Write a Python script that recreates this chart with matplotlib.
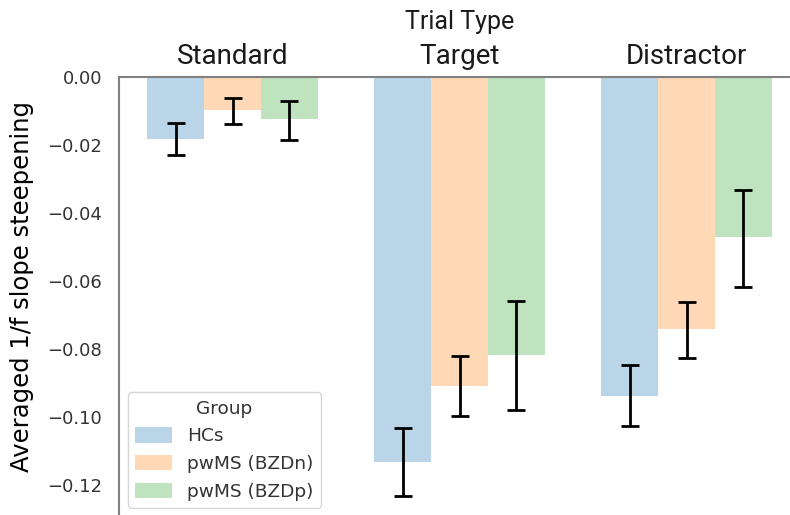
import numpy as np
import matplotlib
matplotlib.use("Agg")
import matplotlib.pyplot as plt
from matplotlib.patches import Patch

# values
trial_types = ['Standard', 'Target', 'Distractor']
groups = ['HCs', 'pwMS (BZDn)', 'pwMS (BZDp)']

hcs_mean = [-0.0182, -0.1131, -0.0937]
hcs_hi = [-0.0135, -0.1033, -0.0847]
hcs_lo = [-0.0229, -0.1232, -0.1026]

bzdn_mean = [-0.0097, -0.0909, -0.0741]
bzdn_hi = [-0.0062, -0.0820, -0.0663]
bzdn_lo = [-0.0138, -0.0997, -0.0826]

bzdp_mean = [-0.0124, -0.0817, -0.0471]
bzdp_hi = [-0.0071, -0.0659, -0.0332]
bzdp_lo = [-0.0185, -0.0979, -0.0619]

colors = ['#1f77b4', '#ff7f0e', '#2ca02c']

fig = plt.figure(figsize=(7.9, 5.15), dpi=100)
ax = fig.add_axes([119 / 790, 1 - 519 / 515, 681 / 790, 442 / 515])

x = np.arange(len(trial_types))
width = 0.25
series = [(hcs_mean, hcs_lo, hcs_hi), (bzdn_mean, bzdn_lo, bzdn_hi), (bzdp_mean, bzdp_lo, bzdp_hi)]
for i, (m, lo, hi) in enumerate(series):
    m = np.array(m)
    yerr = [m - np.array(lo), np.array(hi) - m]
    ax.bar(x + (i - 1) * width, m, width, color=colors[i], alpha=0.3, linewidth=0)
    ax.errorbar(x + (i - 1) * width, m, yerr=yerr, fmt='none', ecolor='black',
                elinewidth=2, capsize=6.5, capthick=2)

ax.set_xlim(-0.5, 2.5)
ax.set_ylim(-0.13, 0)
ax.set_yticks([0, -0.02, -0.04, -0.06, -0.08, -0.10, -0.12])
ax.set_yticklabels(['0.00', '\u22120.02', '\u22120.04', '\u22120.06', '\u22120.08', '\u22120.10', '\u22120.12'])

ax.xaxis.tick_top()
ax.xaxis.set_label_position('top')
ax.set_xticks(x)
ax.set_xticklabels(trial_types, fontsize=20, family='Roboto', color='#1a1a1a')
ax.set_xlabel('Trial Type', fontsize=18, family='Roboto', color='#1a1a1a', labelpad=10)
ax.tick_params(axis='x', length=0, pad=5)
ax.tick_params(axis='y', length=0, pad=12, labelsize=13, labelcolor='#333333')
ax.set_ylabel('Averaged 1/f slope steepening', fontsize=17.5)
ax.yaxis.set_label_coords(-0.125, 0.527)

for s in ['right', 'bottom']:
    ax.spines[s].set_visible(False)
for s in ['left', 'top']:
    ax.spines[s].set_color('#808080')
    ax.spines[s].set_linewidth(1.5)

handles = [Patch(facecolor=c, alpha=0.3, linewidth=0) for c in colors]
leg = ax.legend(handles, groups, title='Group', loc='lower left',
                bbox_to_anchor=(0.0132, 0.025), borderaxespad=0, fontsize=13.3,
                title_fontsize=13.3, frameon=True, handlelength=2.0,
                handleheight=0.9, labelspacing=0.52)
leg.get_frame().set_edgecolor('#cccccc')
leg.get_title().set_color('#333333')
for t in leg.get_texts():
    t.set_color('#333333')

fig.savefig('out.png', dpi=100)
